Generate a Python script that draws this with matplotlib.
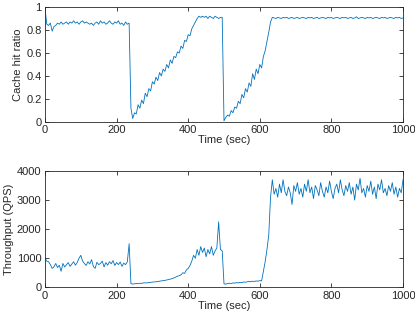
import numpy as np
import matplotlib
matplotlib.use("Agg")
import matplotlib.pyplot as plt

# time in seconds, sampled every 5 s
time_sec = list(range(0, 1001, 5))

hit_ratio = [
    0.99, 0.85, 0.84, 0.86, 0.79, 0.83, 0.84, 0.86, 0.85, 0.87,   # 0-45
    0.85, 0.86, 0.87, 0.85, 0.87, 0.86, 0.88, 0.86, 0.87, 0.85,   # 50-95
    0.87, 0.88, 0.86, 0.87, 0.86, 0.85, 0.86, 0.84, 0.86, 0.87,   # 100-145
    0.85, 0.88, 0.86, 0.87, 0.85, 0.86, 0.88, 0.86, 0.85, 0.87,   # 150-195
    0.86, 0.88, 0.85, 0.86, 0.84, 0.87, 0.85, 0.86, 0.12, 0.03,   # 200-245
    0.08, 0.07, 0.15, 0.12, 0.19, 0.16, 0.25, 0.22, 0.29, 0.27,   # 250-295
    0.35, 0.33, 0.39, 0.36, 0.43, 0.40, 0.46, 0.44, 0.50, 0.47,   # 300-345
    0.54, 0.51, 0.57, 0.56, 0.61, 0.60, 0.66, 0.64, 0.71, 0.70,   # 350-395
    0.76, 0.75, 0.81, 0.84, 0.87, 0.90, 0.92, 0.91, 0.92, 0.91,   # 400-445
    0.92, 0.90, 0.92, 0.91, 0.90, 0.92, 0.91, 0.90, 0.91, 0.91,   # 450-495
    0.01, 0.04, 0.06, 0.05, 0.10, 0.08, 0.13, 0.12, 0.18, 0.16,   # 500-545
    0.24, 0.21, 0.29, 0.26, 0.34, 0.31, 0.42, 0.37, 0.46, 0.42,   # 550-595
    0.50, 0.47, 0.57, 0.62, 0.70, 0.78, 0.87, 0.91, 0.905, 0.90,  # 600-645
    0.91, 0.905, 0.90, 0.91, 0.905, 0.91, 0.90, 0.905, 0.91, 0.90,  # 650-695
    0.905, 0.91, 0.90, 0.905, 0.91, 0.905, 0.90, 0.91, 0.905, 0.91,  # 700-745
    0.90, 0.905, 0.91, 0.90, 0.905, 0.91, 0.905, 0.90, 0.91, 0.905,  # 750-795
    0.91, 0.90, 0.905, 0.91, 0.905, 0.90, 0.91, 0.905, 0.91, 0.90,  # 800-845
    0.905, 0.91, 0.90, 0.905, 0.915, 0.90, 0.905, 0.91, 0.905, 0.90,  # 850-895
    0.91, 0.905, 0.91, 0.90, 0.905, 0.91, 0.905, 0.90, 0.91, 0.905,  # 900-945
    0.91, 0.90, 0.905, 0.91, 0.905, 0.90, 0.91, 0.905, 0.91, 0.90,  # 950-995
    0.905,                                                          # 1000
]

throughput = [
    1000, 900, 880, 780, 650, 700, 820, 680, 760, 550,            # 0-45
    820, 700, 780, 850, 720, 800, 880, 760, 850, 1000,            # 50-95
    1100, 900, 820, 750, 880, 800, 950, 720, 650, 860,            # 100-145
    780, 820, 900, 700, 850, 760, 880, 810, 920, 750,             # 150-195
    850, 780, 870, 720, 830, 780, 880, 1500, 130, 110,            # 200-245
    120, 130, 125, 140, 135, 150, 155, 150, 165, 170,             # 250-295
    180, 185, 190, 200, 210, 220, 230, 240, 250, 270,             # 300-345
    280, 300, 320, 350, 380, 400, 430, 500, 480, 600,             # 350-395
    650, 750, 900, 1100, 1000, 1300, 1100, 1400, 1200, 1350,      # 400-445
    1050, 1300, 1150, 1400, 1100, 1250, 1350, 2250, 1300, 1250,   # 450-495
    120, 110, 130, 140, 130, 150, 145, 160, 150, 170,             # 500-545
    165, 180, 175, 190, 200, 190, 210, 200, 220, 210,             # 550-595
    230, 220, 560, 880, 1300, 1800, 3100, 3700, 3200, 3400,       # 600-645
    3100, 3550, 3250, 3700, 3300, 3150, 3450, 3250, 2850, 3500,   # 650-695
    3300, 3600, 3200, 3400, 3100, 3550, 3300, 3700, 3250, 3450,   # 700-745
    3050, 3500, 3350, 3150, 3600, 3300, 3100, 3450, 3250, 3650,   # 750-795
    3300, 3050, 3400, 3550, 3250, 3700, 3350, 3150, 3500, 3300,   # 800-845
    3600, 3200, 3450, 3000, 3550, 3350, 3750, 3250, 3400, 3100,   # 850-895
    3500, 3300, 3650, 3200, 3450, 3050, 3550, 3350, 3700, 3250,   # 900-945
    3400, 3150, 3500, 3300, 3600, 3200, 3450, 3100, 3400, 3250,   # 950-995
    3700,                                                         # 1000
]

x_ticks = [0, 200, 400, 600, 800, 1000]
hit_ticks = [0, 0.2, 0.4, 0.6, 0.8, 1]
hit_tick_labels = ["0", "0.2", "0.4", "0.6", "0.8", "1"]
qps_ticks = [0, 1000, 2000, 3000, 4000]

plt.rcParams['font.family'] = ['Liberation Sans', 'DejaVu Sans']
line_color = '#0072BD'
axis_color = '#262626'
fs = 8

fig = plt.figure(figsize=(4.15, 3.21), dpi=100)
W, H = 415, 321
ax1 = fig.add_axes([45 / W, 1 - 122 / H, 358 / W, 115 / H])
ax2 = fig.add_axes([45 / W, 1 - 287.3 / H, 358 / W, 116.3 / H])

def style(ax):
    ax.tick_params(direction='in', length=3, width=0.6, colors=axis_color,
                   labelsize=fs, top=True, right=True, pad=2.5)
    for s in ax.spines.values():
        s.set_color(axis_color)
        s.set_linewidth(0.6)
    ax.set_xlim(0, 1000)
    ax.set_xticks(x_ticks)
    ax.set_xticklabels([str(t) for t in x_ticks])
    ax.set_xlabel("Time (sec)", fontsize=fs, color=axis_color, labelpad=0)

ax1.plot(time_sec, hit_ratio, color=line_color, linewidth=0.6)
style(ax1)
ax1.set_ylim(0, 1)
ax1.set_yticks(hit_ticks)
ax1.set_yticklabels(hit_tick_labels)
ax1.set_ylabel("Cache hit ratio", fontsize=fs, color=axis_color, labelpad=2)

ax2.plot(time_sec, throughput, color=line_color, linewidth=0.6)
style(ax2)
ax2.set_ylim(0, 4000)
ax2.set_yticks(qps_ticks)
ax2.set_yticklabels([str(t) for t in qps_ticks])
ax2.set_ylabel("Throughput (QPS)", fontsize=fs, color=axis_color, labelpad=2)

fig.savefig("out.png", dpi=100)
